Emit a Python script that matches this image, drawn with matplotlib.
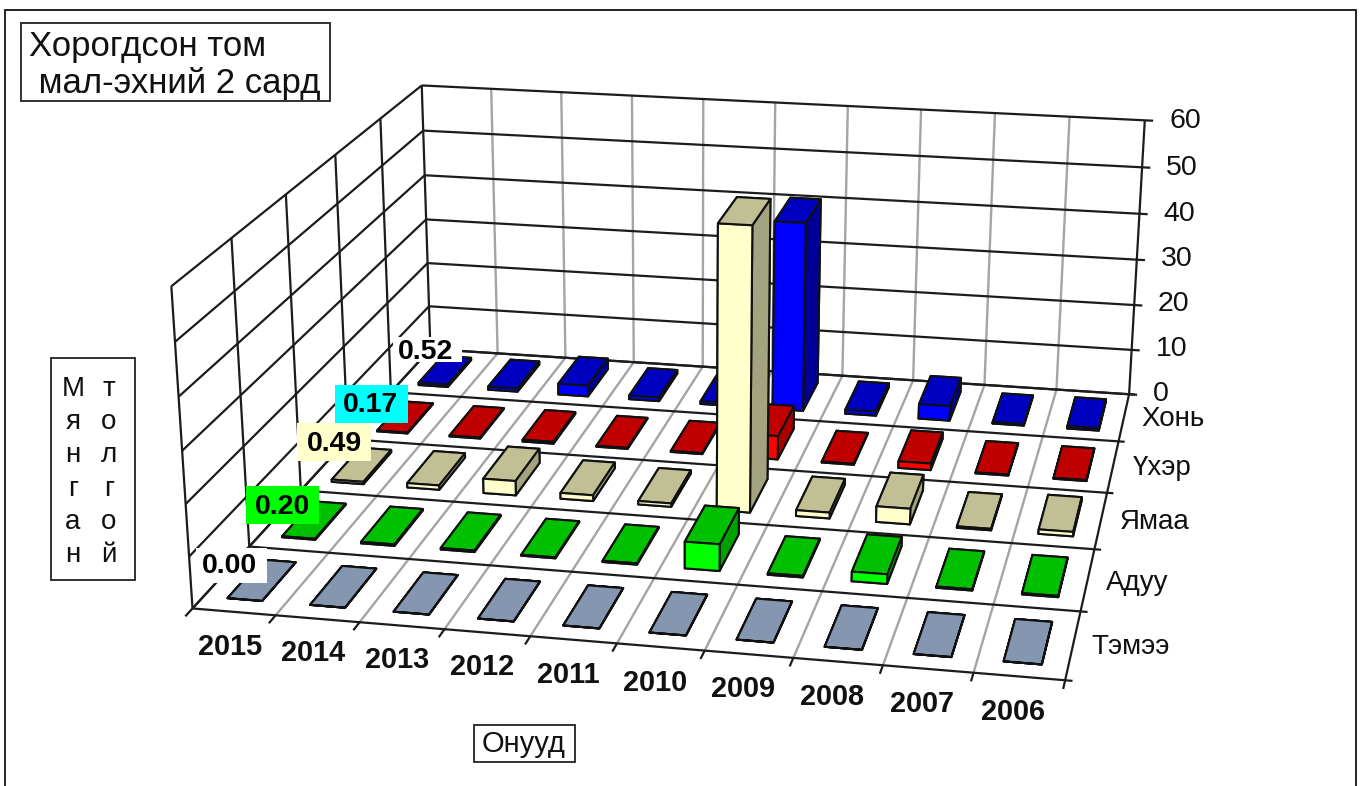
import numpy as np
import matplotlib
matplotlib.use("Agg")
import matplotlib.pyplot as plt
from matplotlib.patches import Rectangle
from mpl_toolkits.mplot3d.art3d import Line3DCollection

plt.rcParams['font.family'] = ['Liberation Sans', 'DejaVu Sans']

years = ['2015', '2014', '2013', '2012', '2011', '2010', '2009', '2008', '2007', '2006']
series = ['Тэмээ', 'Адуу', 'Ямаа', 'Үхэр', 'Хонь']
temee = [0.00, 0.00, 0.00, 0.00, 0.00, 0.00, 0.00, 0.00, 0.00, 0.00]
aduu = [0.20, 0.30, 0.30, 0.20, 0.25, 5.3, 0.30, 1.9, 0.25, 0.25]
yamaa = [0.49, 0.9, 3.0, 1.2, 0.7, 57.4, 1.2, 3.2, 0.3, 0.9]
ukher = [0.17, 0.2, 0.4, 0.2, 0.2, 5.0, 0.2, 1.4, 0.2, 0.2]
khon = [0.52, 0.7, 2.4, 0.8, 0.6, 41.0, 0.9, 3.2, 0.3, 0.5]
values = [temee, aduu, yamaa, ukher, khon]
z_ticks = [0, 10, 20, 30, 40, 50, 60]
front = ['#8496B0', '#00FF00', '#FFFFCC', '#FF0000', '#0000FF']
top = ['#8496B0', '#00C000', '#C0C094', '#C00000', '#0000C0']
side = ['#6A7A90', '#00A000', '#A3A37F', '#A80000', '#000099']

W, H = 1365, 786
fig = plt.figure(figsize=(W / 100, H / 100), dpi=100, facecolor='white')
ax = fig.add_axes([0, 0, 1, 1], projection='3d')
ax.set_axis_off()
ax.computed_zorder = False

# camera calibration: data-space box corners -> picture pixels
calib = [((0, 0, 0), (192, 608)), ((10, 0, 0), (1065, 681)), ((10, 5, 0), (1129, 393)),
         ((0, 5, 0), (431, 350)), ((0, 5, 60), (421, 85)), ((10, 5, 60), (1145, 121)),
         ((0, 0, 60), (172, 286))]
A = []
for (X, Y, Z), (u, v) in calib:
    A.append([X, Y, Z, 1, 0, 0, 0, 0, -u * X, -u * Y, -u * Z, -u])
    A.append([0, 0, 0, 0, X, Y, Z, 1, -v * X, -v * Y, -v * Z, -v])
P = np.linalg.svd(np.array(A, float))[2][-1].reshape(3, 4)
if P[2] @ np.array([5, 2.5, 30, 1]) < 0:
    P = -P
w_mid = P[2] @ np.array([5, 2.5, 30, 1])
depth = P[2].copy()
depth[3] -= 0.5 * w_mid
M = np.vstack([P[0], P[1], depth, P[2]])
ax.get_proj = lambda: M
ax.apply_aspect = lambda position=None: ax._set_position([0, 0, 1, 1], 'active')
ax.viewLim.intervalx = (0, W)
ax.viewLim.intervaly = (H, 0)

DARK = '#1c1c1c'
GRAY = '#a4a4a4'
nx, ny, zmax = len(years), len(series), z_ticks[-1]
gray_segs, dark_segs = [], []
for i in range(nx + 1):
    inner = 0 < i < nx
    (gray_segs if inner else dark_segs).append([(i, 0, 0), (i, ny, 0)])
    if i > 0:
        (gray_segs if inner else dark_segs).append([(i, ny, 0), (i, ny, zmax)])
    dark_segs.append([(i, 0, 0), (i, -0.12, 0)])
for j in range(ny + 1):
    dark_segs.append([(0, j, 0), (nx, j, 0)])
    dark_segs.append([(0, j, 0), (0, j, zmax)])
    dark_segs.append([(nx, j, 0), (nx + 0.08, j, 0)])
for t in z_ticks:
    dark_segs.append([(0, 0, t), (0, ny, t)])
    dark_segs.append([(0, ny, t), (nx, ny, t)])
    dark_segs.append([(nx, ny, t), (nx + 0.11, ny, t)])
ax.add_collection3d(Line3DCollection(gray_segs, colors=GRAY, linewidths=1.7, zorder=1))
ax.add_collection3d(Line3DCollection(dark_segs, colors=DARK, linewidths=1.6, zorder=2))

bw, bd = 0.42, 0.62
for j in range(ny - 1, -1, -1):
    for i in range(nx):
        fc = [top[j], top[j], front[j], side[j], side[j], side[j]]
        ax.bar3d(i + 0.5 - bw / 2, j + 0.5 - bd / 2, 0, bw, bd, max(values[j][i], 0.001),
                 color=fc, shade=False, edgecolor='#101010', linewidth=1.5,
                 zorder=10 + (ny - j) * 100 + i)


def T(x, y, s, **k):
    return fig.text(x / W, 1 - y / H, s, **k)

def box(x0, y0, x1, y1, fc='white', ec='#222222', lw=1.3):
    fig.add_artist(Rectangle((x0 / W, 1 - y1 / H), (x1 - x0) / W, (y1 - y0) / H, transform=fig.transFigure,
                             facecolor=fc, edgecolor=ec, linewidth=lw, zorder=2))

box(5, 10, 1356, 800, fc='none', ec='#111111')
box(21, 23, 330, 101)
T(29, 65, 'Хорогдсон том\n мал-эхний 2 сард', fontsize=25, va='center', ha='left', linespacing=1.16, zorder=3, color='#111111')

box(51, 358, 135, 580)
T(73, 472, '\n'.join('Мянган'), fontsize=20, va='center', ha='center', linespacing=1.355, zorder=3, color='#111111')
T(109, 472, '\n'.join('толгой'), fontsize=20, va='center', ha='center', linespacing=1.355, zorder=3, color='#111111')
box(474, 725, 575, 762)
T(524, 744, 'Онууд', fontsize=21, va='center', ha='center', zorder=3, color='#111111')

for t, (x, y) in zip(z_ticks, [(1161, 394), (1172, 349), (1173, 304), (1177, 259), (1179, 214), (1182, 168), (1185, 121)]):
    T(x, y, str(t), fontsize=20.5, va='center', ha='center', zorder=3, color='#111111')
for s, (x, y) in zip(series, [(1131, 647), (1137, 583), (1155, 522), (1162, 468), (1173, 419)]):
    T(x, y, s, fontsize=20, va='center', ha='center', zorder=3, color='#111111')
for s, (x, y) in zip(years, [(230, 647), (313, 653), (397, 660), (482, 667), (568, 675), (655, 683), (743, 689), (832, 697), (922, 704), (1013, 712)]):
    T(x, y, s, fontsize=20.8, fontweight='bold', va='center', ha='center', zorder=3, color='#111111')

labels = ['0.00', '0.20', '0.49', '0.17', '0.52']
lab_bg = ['white', '#00FF00', '#FFFFCC', '#00FFFF', 'white']
lab_box = [(196, 548, 267, 583), (246, 486, 319, 524), (297, 423, 371, 461), (335, 385, 408, 423), (393, 337, 462, 362)]
lab_c = [(229, 566), (282, 507), (334, 444), (371, 405), (426, 352)]
for s, bg, (x0, y0, x1, y1), (cx, cy) in zip(labels, lab_bg, lab_box, lab_c):
    box(x0, y0, x1, y1, fc=bg, ec='none', lw=0)
    T(cx, cy, s, fontsize=20.5, fontweight='bold', va='center', ha='center', zorder=3, color='black')

fig.savefig('out.png', dpi=100)
